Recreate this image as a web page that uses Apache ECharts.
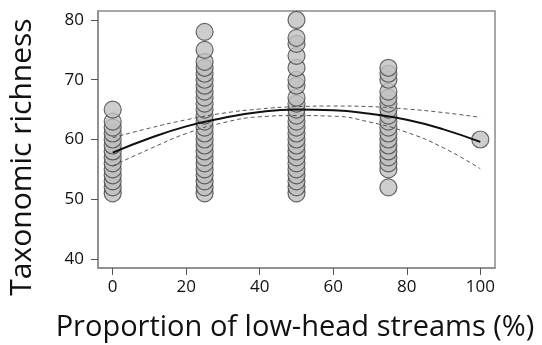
<!DOCTYPE html>
<html><head><meta charset="utf-8">
<script src="https://cdn.jsdelivr.net/npm/echarts@6/dist/echarts.min.js"></script>
<style>html,body{margin:0;padding:0;background:#fff}#c{width:542px;height:345px}</style>
</head><body><div id="c"></div>
<script>
// Observed richness values per proportion group
const groupX = [0, 25, 50, 75, 100];
const rich0 = [51, 52, 53, 54, 55, 56, 57, 58, 59, 60, 61, 62, 63, 65];
const rich25 = [51, 52, 53, 54, 55, 56, 57, 58, 59, 60, 61, 62, 63, 64, 65, 66, 67, 68, 69, 70, 71, 72, 73, 75, 78];
const rich50 = [51, 52, 53, 54, 55, 56, 57, 58, 59, 60, 61, 62, 63, 64, 65, 66, 67, 69, 70, 72, 74, 76, 77, 80];
const rich75 = [52, 55, 56, 57, 58, 59, 60, 61, 62, 63, 64, 65, 66, 67, 68, 70, 71, 72];
const rich100 = [60];
// Fitted curve and confidence band
const fitX = [0, 10, 20, 30, 40, 50, 60, 70, 80, 90, 100];
const fitY = [57.8, 60.2, 62.2, 63.6, 64.6, 65.0, 64.9, 64.3, 63.3, 61.7, 59.6];
const upperY = [60.3, 61.9, 63.3, 64.4, 65.1, 65.5, 65.6, 65.5, 65.1, 64.5, 63.7];
const lowerY = [55.6, 58.4, 61.0, 62.8, 63.8, 64.0, 63.9, 62.9, 61.2, 58.6, 55.1];
const xTicks = [0, 20, 40, 60, 80, 100];
const yTicks = [40, 50, 60, 70, 80];
const xTitle = 'Proportion of low-head streams (%)';
const yTitle = 'Taxonomic richness';

const groups = [rich0, rich25, rich50, rich75, rich100];
const pts = [];
groups.forEach((g, i) => g.forEach(v => pts.push([groupX[i], v])));
const pair = ys => fitX.map((x, i) => [x, ys[i]]);

const font = "'Open Sans', 'DejaVu Sans', sans-serif";
const chart = echarts.init(document.getElementById('c'), null, {renderer: 'canvas'});
chart.setOption({
  animation: false,
  grid: {left: 98, top: 11, right: 47, bottom: 77, show: true, borderColor: '#8a8a8a', borderWidth: 1.5, backgroundColor: '#fff'},
  graphic: [
    {type: 'text', x: 295, y: 328, style: {text: xTitle, font: "29px 'Open Sans', sans-serif", fill: '#111', textAlign: 'center', textVerticalAlign: 'middle'}},
    {type: 'text', x: 22, y: 157, rotation: Math.PI / 2, style: {text: yTitle, font: "30px 'Open Sans', sans-serif", fill: '#111', textAlign: 'center', textVerticalAlign: 'middle'}}
  ],
  xAxis: {
    type: 'value', min: -4, max: 104,
    axisLine: {show: true, onZero: false, lineStyle: {color: '#8a8a8a', width: 1.5}},
    axisTick: {show: true, length: 7, customValues: xTicks, lineStyle: {color: '#555'}},
    axisLabel: {customValues: xTicks, fontFamily: font, fontSize: 17, color: '#111', margin: 11},
    splitLine: {show: false}
  },
  yAxis: {
    type: 'value', min: 38.5, max: 81.5,
    axisLine: {show: true, onZero: false, lineStyle: {color: '#8a8a8a', width: 1.5}},
    axisTick: {show: true, length: 7, customValues: yTicks, lineStyle: {color: '#555'}},
    axisLabel: {customValues: yTicks, fontFamily: font, fontSize: 17, color: '#111', margin: 14},
    splitLine: {show: false}
  },
  series: [
    {type: 'scatter', data: pts, symbol: 'circle', symbolSize: 17,
     itemStyle: {color: '#c0c0c0', borderColor: '#444', borderWidth: 1.2}, z: 2},
    {type: 'line', data: pair(upperY), smooth: true, symbol: 'none',
     lineStyle: {color: '#555', width: 1, type: [4, 3]}, z: 3},
    {type: 'line', data: pair(lowerY), smooth: true, symbol: 'none',
     lineStyle: {color: '#555', width: 1, type: [4, 3]}, z: 3},
    {type: 'line', data: pair(fitY), smooth: true, symbol: 'none',
     lineStyle: {color: '#111', width: 2}, z: 4}
  ]
});
</script></body></html>
